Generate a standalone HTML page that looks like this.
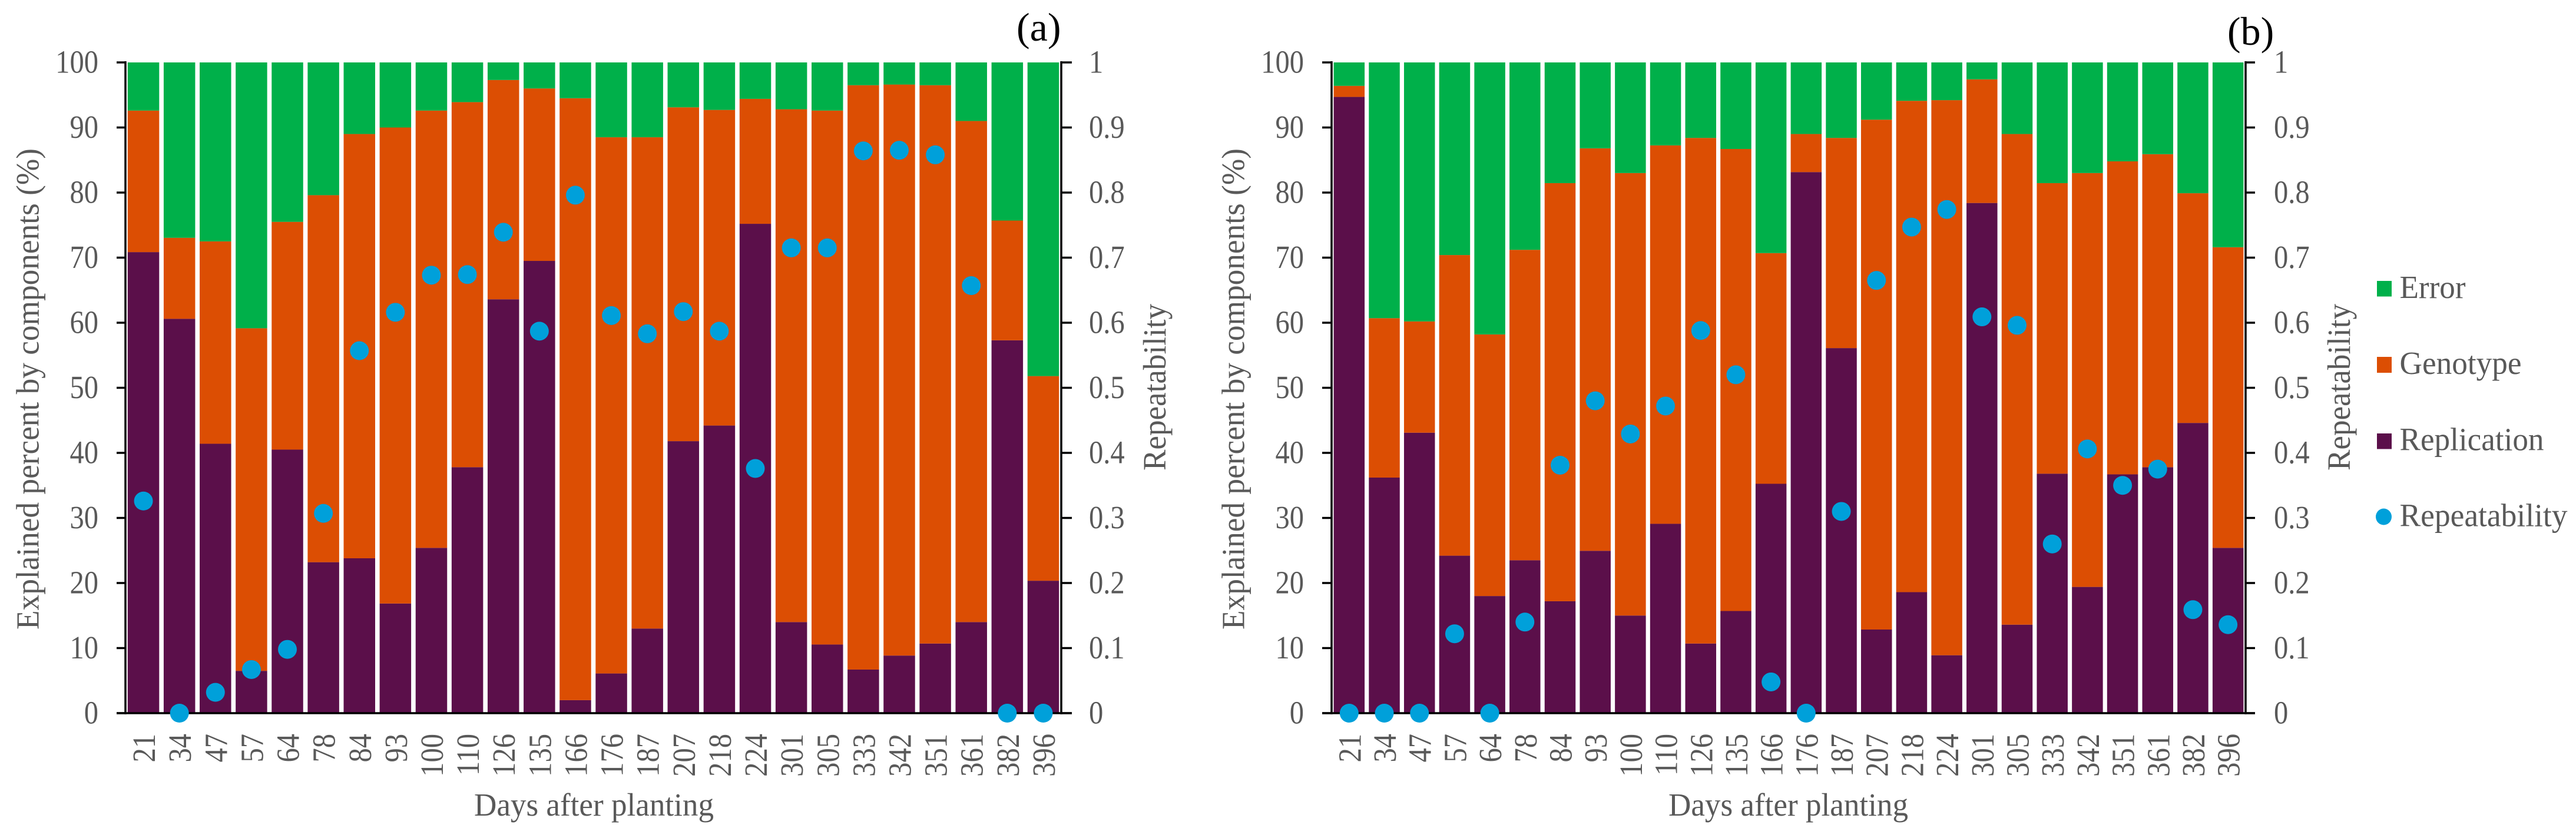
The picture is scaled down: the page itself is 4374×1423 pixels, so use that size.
<!DOCTYPE html>
<html lang="en">
<head>
<meta charset="utf-8">
<title>Explained percent by components and repeatability</title>
<style>
  html,body{margin:0;padding:0;background:#fff;}
  svg{display:block;}
  text{font-family:"Liberation Serif","Times New Roman",serif;fill:#595959;font-size:55.5px;}
</style>
</head>
<body>
<svg id="chart" xmlns="http://www.w3.org/2000/svg" width="4374" height="1423" viewBox="0 0 4374 1423">
  <rect x="0" y="0" width="4374" height="1423" fill="#ffffff"/>
  <g id="panel-a"></g>
  <g id="panel-b"></g>

  <text x="65.5" y="1069" transform="rotate(-90 65.5 1069)" textLength="817" lengthAdjust="spacingAndGlyphs">Explained percent by components (%)</text>
  <text x="1979" y="799" transform="rotate(-90 1979 799)" textLength="283" lengthAdjust="spacingAndGlyphs">Repeatability</text>
  <text x="805" y="1385" textLength="407" lengthAdjust="spacingAndGlyphs">Days after planting</text>
  <text x="1726" y="69" style="font-size:68px;fill:#000">(a)</text>

  <text x="2112.5" y="1069" transform="rotate(-90 2112.5 1069)" textLength="817" lengthAdjust="spacingAndGlyphs">Explained percent by components (%)</text>
  <text x="3990" y="799" transform="rotate(-90 3990 799)" textLength="283" lengthAdjust="spacingAndGlyphs">Repeatability</text>
  <text x="2833" y="1385" textLength="407" lengthAdjust="spacingAndGlyphs">Days after planting</text>
  <text x="3782" y="76" style="font-size:68px;fill:#000">(b)</text>

  <g>
    <rect x="4036" y="477" width="25" height="26.5" fill="#00b04a"/>
    <text x="4074.5" y="506" textLength="112" lengthAdjust="spacingAndGlyphs">Error</text>
    <rect x="4036" y="606" width="25" height="27" fill="#dc4e03"/>
    <text x="4074.5" y="635" textLength="207" lengthAdjust="spacingAndGlyphs">Genotype</text>
    <rect x="4036" y="736" width="25" height="26.5" fill="#5b0f4a"/>
    <text x="4074.5" y="764.5" textLength="245" lengthAdjust="spacingAndGlyphs">Replication</text>
    <ellipse cx="4047.5" cy="877.5" rx="13.5" ry="14" fill="#00a0da"/>
    <text x="4074.5" y="893.5" textLength="285" lengthAdjust="spacingAndGlyphs">Repeatability</text>
  </g>
</svg>

<script>
var categoriesA = ["21","34","47","57","64","78","84","93","100","110","126","135","166","176","187","207","218","224","301","305","333","342","351","361","382","396"];
var categoriesB = ["21","34","47","57","64","78","84","93","100","110","126","135","166","176","187","207","218","224","301","305","333","342","351","361","382","396"];

var replicationA = [70.85,60.6,41.4,6.5,40.5,23.2,23.8,16.85,25.4,37.8,63.6,69.5,2.0,6.1,13.0,41.8,44.2,75.2,14.0,10.55,6.7,8.85,10.7,14.0,57.3,20.35];
var genotypeA = [21.75,12.45,31.1,52.65,35.0,56.4,65.2,73.15,67.2,56.1,33.7,26.5,92.5,82.4,75.5,51.3,48.5,19.2,78.8,82.05,89.8,87.75,85.8,77.0,18.4,31.45];
var errorA = [7.4,26.95,27.5,40.85,24.5,20.4,11.0,10.0,7.4,6.1,2.7,4.0,5.5,11.5,11.5,6.9,7.3,5.6,7.2,7.4,3.5,3.4,3.5,9.0,24.3,48.2];
var repeatabilityA = [0.326,0,0.032,0.067,0.098,0.307,0.557,0.616,0.673,0.674,0.739,0.587,0.796,0.611,0.583,0.617,0.587,0.376,0.715,0.715,0.864,0.865,0.858,0.657,0,0];

var replicationB = [94.7,36.2,43.1,24.2,18.0,23.5,17.2,24.95,15.0,29.1,10.7,15.7,35.25,83.15,56.1,12.85,18.6,8.9,78.4,13.6,36.8,19.4,36.7,37.8,44.6,25.4];
var genotypeB = [1.7,24.5,17.1,46.2,40.2,47.7,64.25,61.85,68.0,58.15,77.7,71.0,35.45,5.85,32.3,78.35,75.5,85.3,19.0,75.4,44.65,63.6,48.1,48.1,35.3,46.2];
var errorB = [3.6,39.3,39.8,29.6,41.8,28.8,18.55,13.2,17.0,12.75,11.6,13.3,29.3,11.0,11.6,8.8,5.9,5.8,2.6,11.0,18.55,17.0,15.2,14.1,20.1,28.4];
var repeatabilityB = [0,0,0,0.122,0,0.14,0.381,0.48,0.429,0.472,0.588,0.52,0.048,0,0.31,0.665,0.747,0.774,0.609,0.596,0.26,0.406,0.35,0.375,0.159,0.136];

var leftTickLabels = ["0","10","20","30","40","50","60","70","80","90","100"];
var rightTickLabels = ["0","0.1","0.2","0.3","0.4","0.5","0.6","0.7","0.8","0.9","1"];

var SVGNS = "http://www.w3.org/2000/svg";
var COLORS = {replication:"#5b0f4a", genotype:"#dc4e03", error:"#00b04a", dot:"#00a0da", text:"#595959", axis:"#000000"};
var Y_TOP = 106;
var Y_BOTTOM = 1211;

function make(parent, tag, attrs) {
  var el = document.createElementNS(SVGNS, tag);
  for (var k in attrs) { el.setAttribute(k, attrs[k]); }
  parent.appendChild(el);
  return el;
}

function drawPanel(rootId, layout, cats, rep, geno, err, rpt) {
  var root = document.getElementById(rootId);
  var n = cats.length;
  var step = (layout.right - layout.left) / n;
  function xBand(i) { return layout.left + step * (i + 0.5); }
  function yPercent(v) { return Y_BOTTOM - (v / 100) * (Y_BOTTOM - Y_TOP); }
  function yRepeat(v) { return Y_BOTTOM - v * (Y_BOTTOM - Y_TOP); }

  for (var i = 0; i < n; i++) {
    var cx = xBand(i);
    var x0 = cx - layout.barWidth / 2;
    var s1 = rep[i];
    var s2 = s1 + geno[i];
    var s3 = s2 + err[i];

    var barRep = make(root, "rect", {x:x0, width:layout.barWidth, y:yPercent(s1), height:yPercent(0) - yPercent(s1), fill:COLORS.replication});
    
    

    var barGeno = make(root, "rect", {x:x0, width:layout.barWidth, y:yPercent(s2), height:yPercent(s1) - yPercent(s2), fill:COLORS.genotype});
    
    

    var barErr = make(root, "rect", {x:x0, width:layout.barWidth, y:yPercent(s3), height:yPercent(s2) - yPercent(s3), fill:COLORS.error});
    
    

    var xLabel = make(root, "text", {transform:"translate(" + (cx + 19.5) + ",1246) rotate(-90) scale(0.875,1)", "text-anchor":"end"});
    xLabel.textContent = cats[i];
    
    
  }

  var leftAxis = make(root, "line", {x1:layout.left, x2:layout.left, y1:Y_TOP - 2, y2:Y_BOTTOM + 2, stroke:COLORS.axis, "stroke-width":3.5});
  
  

  var rightAxis = make(root, "line", {x1:layout.right, x2:layout.right, y1:Y_TOP - 2, y2:Y_BOTTOM + 2, stroke:COLORS.axis, "stroke-width":3.5});
  
  

  for (var t = 0; t < leftTickLabels.length; t++) {
    var frac = t / (leftTickLabels.length - 1);
    var ty = yPercent(frac * 100);

    var lTick = make(root, "line", {x1:layout.left - layout.tickL, x2:layout.left, y1:ty, y2:ty, stroke:COLORS.axis, "stroke-width":3.5});
    
    

    var rTick = make(root, "line", {x1:layout.right, x2:layout.right + layout.tickR, y1:ty, y2:ty, stroke:COLORS.axis, "stroke-width":3.5});
    
    

    var lLabel = make(root, "text", {transform:"translate(" + layout.leftLabelX + "," + (ty + 17.5) + ") scale(0.875,1)", "text-anchor":"end"});
    lLabel.textContent = leftTickLabels[t];
    
    

    var rLabel = make(root, "text", {transform:"translate(" + layout.rightLabelX + "," + (ty + 17.5) + ") scale(0.875,1)"});
    rLabel.textContent = rightTickLabels[t];
    
    
  }

  var xAxis = make(root, "line", {x1:layout.left - layout.tickL, x2:layout.right + layout.tickR, y1:Y_BOTTOM, y2:Y_BOTTOM, stroke:COLORS.axis, "stroke-width":3.5});
  
  

  for (var j = 0; j < n; j++) {
    var dot = make(root, "circle", {cx:xBand(j), cy:yRepeat(rpt[j]), r:16, fill:COLORS.dot});
    
    
  }
}

drawPanel("panel-a",
  {left:213, right:1802, barWidth:53.5, tickL:15, tickR:18, leftLabelX:167, rightLabelX:1849},
  categoriesA, replicationA, genotypeA, errorA, repeatabilityA);

drawPanel("panel-b",
  {left:2261, right:3813, barWidth:52.5, tickL:16, tickR:16, leftLabelX:2214, rightLabelX:3861},
  categoriesB, replicationB, genotypeB, errorB, repeatabilityB);
</script>
</body>
</html>
